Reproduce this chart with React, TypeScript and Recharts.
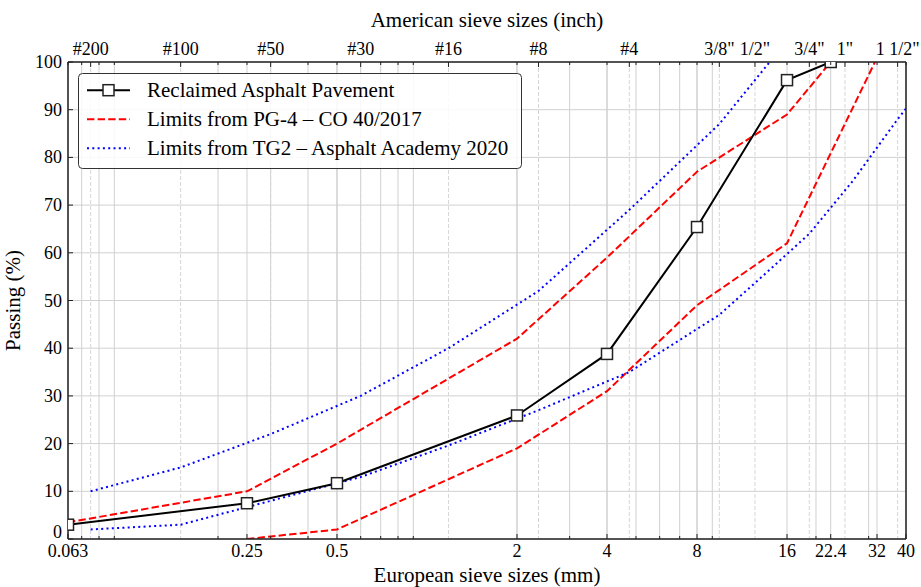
import {
  CartesianGrid,
  Legend,
  Line,
  LineChart,
  XAxis,
  YAxis,
} from "recharts";

const FONT = "'Liberation Serif', 'Times New Roman', serif";

// European sieves (bottom axis), mm
const EU_TICKS = [0.063, 0.25, 0.5, 2, 4, 8, 16, 22.4, 32, 40];
const EU_LABELS = ["0.063", "0.25", "0.5", "2", "4", "8", "16", "22.4", "32", "40"];

// American sieves (top axis), mm equivalents
const US_TICKS = [0.075, 0.15, 0.3, 0.6, 1.18, 2.36, 4.75, 9.5, 12.5, 19, 25, 37.5];
const US_LABELS = ["#200", "#100", "#50", "#30", "#16", "#8", "#4", '3/8"', '1/2"', '3/4"', '1"', '1 1/2"'];

// log minor positions
const MINOR = [0.07, 0.08, 0.09, 0.2, 0.3, 0.4, 0.5, 0.6, 0.7, 0.8, 0.9, 2, 3, 4, 5, 6, 7, 8, 9, 20, 30];

const Y_TICKS = [0, 10, 20, 30, 40, 50, 60, 70, 80, 90, 100];

// Reclaimed asphalt pavement
const RAP_SIZE = [0.063, 0.25, 0.5, 2, 4, 8, 16, 22.4];
const RAP_PASS = [3, 7.5, 11.7, 25.9, 38.8, 65.4, 96.2, 100];

// PG-4 limits
const PG4_UP_SIZE = [0.063, 0.25, 0.5, 2, 4, 8, 16, 22.4];
const PG4_UP_PASS = [3.5, 10, 20, 42, 59, 77, 89, 100];
const PG4_LO_SIZE = [0.25, 0.5, 2, 4, 8, 16, 31.5];
const PG4_LO_PASS = [0, 2, 19, 31, 49, 62, 100];

// TG2 limits
const TG2_UP_SIZE = [0.075, 0.15, 0.3, 0.6, 1.18, 2.36, 4.75, 9.5, 14];
const TG2_UP_PASS = [10, 15, 22, 30, 40, 52, 69, 87, 100];
const TG2_LO_SIZE = [0.075, 0.15, 0.3, 0.6, 1.18, 2.36, 4.75, 9.5, 13.2, 19, 26.5, 37.5, 53];
const TG2_LO_PASS = [2, 3, 8, 13, 19.6, 27, 35, 47, 55, 64, 75, 88, 100];

const toPoints = (xs: number[], ys: number[]) => xs.map((x, i) => ({ x, y: ys[i] }));

const BOTTOM_TICKS = Array.from(new Set([...EU_TICKS, ...MINOR])).sort((a, b) => a - b);
const TOP_TICKS = Array.from(new Set([...US_TICKS, ...EU_TICKS, ...MINOR])).sort((a, b) => a - b);

const RED_DASH = "7.4 3.2";
const BLUE_DOT = "2 3.3";

const LEGEND = [
  { name: "Reclaimed Asphalt Pavement", color: "#000", dash: undefined as string | undefined, marker: true },
  { name: "Limits from PG-4 \u2013 CO 40/2017", color: "#ff0000", dash: RED_DASH, marker: false },
  { name: "Limits from TG2 \u2013 Asphalt Academy 2020", color: "#0000ff", dash: BLUE_DOT, marker: false },
];

const AXIS = { stroke: "#222", strokeWidth: 1.5 };

function BottomTick(props: any) {
  const { x, y, payload } = props;
  const i = EU_TICKS.indexOf(payload.value);
  return (
    <g>
      <line x1={x} x2={x} y1={y} y2={y - (i >= 0 ? 5 : 3)} stroke="#222" />
      {i >= 0 && (
        <text x={x} y={y + 17.5} textAnchor="middle" fontSize={18} fontFamily={FONT} fill="#000">
          {EU_LABELS[i]}
        </text>
      )}
    </g>
  );
}

function TopTick(props: any) {
  const { x, y, payload } = props;
  const i = US_TICKS.indexOf(payload.value);
  return (
    <g>
      <line x1={x} x2={x} y1={y} y2={y + (i >= 0 ? 5 : 3)} stroke="#222" />
      {i >= 0 && (
        <text x={x} y={y - 7.5} textAnchor="middle" fontSize={18} fontFamily={FONT} fill="#000">
          {US_LABELS[i]}
        </text>
      )}
    </g>
  );
}

function LeftTick(props: any) {
  const { x, y, payload } = props;
  return (
    <g>
      <line x1={x} x2={x + 5} y1={y} y2={y} stroke="#222" />
      <text
        x={x - 6}
        y={y + (payload.value === 0 ? -7 : 0)}
        dy={6}
        textAnchor="end"
        fontSize={18}
        fontFamily={FONT}
        fill="#000"
      >
        {payload.value}
      </text>
    </g>
  );
}

function RightTick(props: any) {
  const { x, y } = props;
  return <line x1={x} x2={x - 5} y1={y} y2={y} stroke="#222" />;
}

function SquareDot(props: any) {
  const { cx, cy, index } = props;
  if (cx == null || cy == null) return <g key={index} />;
  return (
    <rect
      key={index}
      x={cx - 5.5}
      y={cy - 5.5}
      width={11}
      height={11}
      fill="#fff"
      stroke="#222"
      strokeWidth={1.5}
    />
  );
}

function LegendBox() {
  return (
    <svg width={444} height={96} style={{ display: "block" }}>
      <rect x={0.5} y={0.5} width={443} height={95} rx={4} fill="rgba(255,255,255,0.85)" stroke="#333" />
      {LEGEND.map((s, i) => {
        const base = 23.5 + i * 29;
        const cy = base - 6.3;
        return (
          <g key={s.name}>
            <line x1={9} x2={52} y1={cy} y2={cy} stroke={s.color} strokeWidth={2} strokeDasharray={s.dash} />
            {s.marker && (
              <rect x={25} y={cy - 5.5} width={11} height={11} fill="#fff" stroke="#222" strokeWidth={1.5} />
            )}
            <text x={69} y={base} fontSize={21} fontFamily={FONT} fill="#000">
              {s.name}
            </text>
          </g>
        );
      })}
    </svg>
  );
}

export default function App() {
  return (
    <div style={{ position: "absolute", left: 0, top: 0, background: "#fff" }}>
      <LineChart width={921} height={587} margin={{ top: 0, right: 0, bottom: 0, left: 0 }}>
        <CartesianGrid
          xAxisId="b"
          yAxisId="l"
          verticalValues={[...EU_TICKS, ...MINOR]}
          horizontalValues={Y_TICKS}
          stroke="#d0d0d0"
          strokeWidth={1}
        />
        <CartesianGrid
          xAxisId="b"
          yAxisId="l"
          horizontal={false}
          verticalValues={US_TICKS}
          stroke="#d6d6d6"
          strokeDasharray="4 2"
        />
        <XAxis
          xAxisId="b"
          dataKey="x"
          type="number"
          scale="log"
          domain={[0.063, 40]}
          allowDataOverflow
          ticks={BOTTOM_TICKS}
          interval={0}
          height={48}
          tickSize={0}
          tickMargin={0}
          tickLine={false}
          tick={BottomTick}
          axisLine={AXIS}
          label={{
            value: "European sieve sizes (mm)",
            position: "insideBottom",
            offset: 5.5,
            fontSize: 21,
            fontFamily: FONT,
            fill: "#000",
          }}
        />
        <XAxis
          xAxisId="t"
          orientation="top"
          dataKey="x"
          type="number"
          scale="log"
          domain={[0.063, 40]}
          allowDataOverflow
          ticks={TOP_TICKS}
          interval={0}
          height={62}
          tickSize={0}
          tickMargin={0}
          tickLine={false}
          tick={TopTick}
          axisLine={AXIS}
          label={{
            value: "American sieve sizes (inch)",
            position: "insideTop",
            offset: 11.6,
            fontSize: 21,
            fontFamily: FONT,
            fill: "#000",
          }}
        />
        <YAxis
          yAxisId="l"
          type="number"
          domain={[0, 100]}
          allowDataOverflow
          ticks={Y_TICKS}
          interval={0}
          width={68}
          tickSize={0}
          tickMargin={0}
          tickLine={false}
          tick={LeftTick}
          axisLine={AXIS}
          label={{
            value: "Passing (%)",
            angle: -90,
            position: "insideLeft",
            offset: 13,
            fontSize: 21,
            fontFamily: FONT,
            fill: "#000",
            style: { textAnchor: "middle" },
          }}
        />
        <YAxis
          yAxisId="r"
          orientation="right"
          type="number"
          domain={[0, 100]}
          ticks={Y_TICKS}
          interval={0}
          width={15}
          tickSize={0}
          tickMargin={0}
          tickLine={false}
          tick={RightTick}
          axisLine={AXIS}
        />
        <Line
          xAxisId="b"
          yAxisId="l"
          data={toPoints(PG4_UP_SIZE, PG4_UP_PASS)}
          dataKey="y"
          type="linear"
          stroke="#ff0000"
          strokeWidth={2}
          strokeDasharray={RED_DASH}
          dot={false}
          isAnimationActive={false}
          legendType="none"
        />
        <Line
          xAxisId="b"
          yAxisId="l"
          data={toPoints(PG4_LO_SIZE, PG4_LO_PASS)}
          dataKey="y"
          type="linear"
          stroke="#ff0000"
          strokeWidth={2}
          strokeDasharray={RED_DASH}
          dot={false}
          isAnimationActive={false}
          legendType="none"
        />
        <Line
          xAxisId="b"
          yAxisId="l"
          data={toPoints(TG2_UP_SIZE, TG2_UP_PASS)}
          dataKey="y"
          type="linear"
          stroke="#0000ff"
          strokeWidth={2}
          strokeDasharray={BLUE_DOT}
          dot={false}
          isAnimationActive={false}
          legendType="none"
        />
        <Line
          xAxisId="b"
          yAxisId="l"
          data={toPoints(TG2_LO_SIZE, TG2_LO_PASS)}
          dataKey="y"
          type="linear"
          stroke="#0000ff"
          strokeWidth={2}
          strokeDasharray={BLUE_DOT}
          dot={false}
          isAnimationActive={false}
          legendType="none"
        />
        <Line
          xAxisId="b"
          yAxisId="l"
          data={toPoints(RAP_SIZE, RAP_PASS)}
          dataKey="y"
          type="linear"
          stroke="#000"
          strokeWidth={2}
          dot={SquareDot}
          isAnimationActive={false}
          legendType="none"
        />
        <Legend
          layout="vertical"
          verticalAlign="middle"
          align="center"
          content={LegendBox}
          wrapperStyle={{ left: 78, top: 72.5, width: 444, height: 96 }}
        />
      </LineChart>
    </div>
  );
}
